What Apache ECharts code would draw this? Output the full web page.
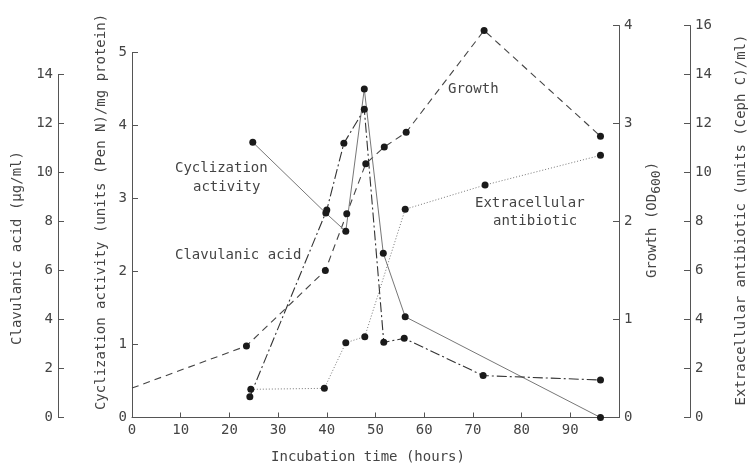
<!DOCTYPE html>
<html>
<head>
<meta charset="utf-8">
<script src="https://cdn.jsdelivr.net/npm/echarts@6/dist/echarts.min.js"></script>
<style>
html,body{margin:0;padding:0;background:#fff;}
#chart{width:750px;height:466px;}
</style>
</head>
<body>
<div id="chart"></div>
<script>
// ---- Data ----
const xTicks = [0, 10, 20, 30, 40, 50, 60, 70, 80, 90];

const growthHours = [0, 23.5, 39.7, 44.1, 48.0, 51.8, 56.3, 72.3, 96.2];
const growthOD    = [0.30, 0.73, 1.50, 2.08, 2.59, 2.76, 2.91, 3.95, 2.87];

const cycHours    = [24.8, 39.8, 43.9, 47.7, 51.6, 56.1, 96.2];
const cycActivity = [3.77, 2.80, 2.55, 4.50, 2.25, 1.38, 0.0];

const clavHours   = [24.2, 40.0, 43.5, 47.7, 51.7, 55.9, 72.1, 96.2];
const clavAcid    = [0.85, 8.47, 11.19, 12.58, 3.07, 3.23, 1.71, 1.53];

const extraHours  = [24.4, 39.5, 43.9, 47.8, 56.1, 72.5, 96.2];
const extraAntib  = [1.15, 1.19, 3.05, 3.30, 8.50, 9.49, 10.70];

const FONT = 'DejaVu Sans Mono';
const TXT = '#444';
const AX = '#555';

function pairs(xs, ys) { return xs.map((x, i) => [x, ys[i]]); }

const growthData = pairs(growthHours, growthOD).map((p, i) =>
  i === 0 ? { value: p, symbol: 'none' } : p);

const chart = echarts.init(document.getElementById('chart'), null, { renderer: 'canvas' });

const hiddenX = (g) => ({ type: 'value', gridIndex: g, min: 0, max: 100, show: false });

function yAx(opts) {
  return Object.assign({
    type: 'value',
    axisLine: { show: true, onZero: false, lineStyle: { color: AX, width: 1 } },
    axisTick: { show: true, inside: true, length: 6, lineStyle: { color: AX } },
    axisLabel: { color: TXT, fontFamily: FONT, fontSize: 14, margin: 5 },
    splitLine: { show: false }
  }, opts);
}

const symStyle = { color: '#1a1a1a' };

const option = {
  animation: false,
  backgroundColor: '#fff',
  grid: [
    { left: 132, right: 131, top: 25.5, bottom: 48.5 },
    { left: 132, right: 131, top: 52.5, bottom: 48.5 },
    { left: 132, right: 131, top: 74.5, bottom: 48.5 }
  ],
  xAxis: [
    {
      type: 'value', gridIndex: 0, min: 0, max: 100, interval: 10,
      axisLine: { show: true, onZero: false, lineStyle: { color: AX, width: 1 } },
      axisTick: { show: true, inside: true, length: 5, lineStyle: { color: AX } },
      axisLabel: {
        color: TXT, fontFamily: FONT, fontSize: 14, margin: 6,
        formatter: v => (xTicks.indexOf(v) >= 0 ? String(v) : '')
      },
      splitLine: { show: false }
    },
    hiddenX(1),
    hiddenX(2)
  ],
  yAxis: [
    yAx({ gridIndex: 0, position: 'right', min: 0, max: 4, interval: 1 }),
    yAx({ gridIndex: 0, position: 'right', offset: 71, min: 0, max: 16, interval: 2 }),
    yAx({ gridIndex: 1, position: 'left', min: 0, max: 5, interval: 1 }),
    yAx({ gridIndex: 2, position: 'left', offset: 74, min: 0, max: 14, interval: 2 })
  ],
  series: [
    {
      name: 'Growth', type: 'line', xAxisIndex: 0, yAxisIndex: 0,
      data: growthData, symbol: 'circle', symbolSize: 7, itemStyle: symStyle,
      lineStyle: { color: '#444', width: 1.1, type: [7, 5] }
    },
    {
      name: 'Extracellular antibiotic', type: 'line', xAxisIndex: 0, yAxisIndex: 1,
      data: pairs(extraHours, extraAntib), symbol: 'circle', symbolSize: 7, itemStyle: symStyle,
      lineStyle: { color: '#777', width: 1, type: [1, 2] }
    },
    {
      name: 'Cyclization activity', type: 'line', xAxisIndex: 1, yAxisIndex: 2,
      data: pairs(cycHours, cycActivity), symbol: 'circle', symbolSize: 7, itemStyle: symStyle,
      lineStyle: { color: '#777', width: 1, type: 'solid' }
    },
    {
      name: 'Clavulanic acid', type: 'line', xAxisIndex: 2, yAxisIndex: 3,
      data: pairs(clavHours, clavAcid), symbol: 'circle', symbolSize: 7, itemStyle: symStyle,
      lineStyle: { color: '#333', width: 1.1, type: [10, 3, 2, 3] }
    }
  ],
  graphic: [
    // axis titles
    { type: 'text', x: 17, y: 248, rotation: Math.PI / 2,
      style: { text: 'Clavulanic acid (µg/ml)', fill: TXT, font: '14px ' + FONT, textAlign: 'center', textVerticalAlign: 'middle' } },
    { type: 'text', x: 101, y: 212, rotation: Math.PI / 2,
      style: { text: 'Cyclization activity (units (Pen N)/mg protein)', fill: TXT, font: '14px ' + FONT, textAlign: 'center', textVerticalAlign: 'middle' } },
    { type: 'text', x: 652, y: 220, rotation: Math.PI / 2,
      style: { text: 'Growth (OD{sub|600})', fill: TXT, font: '14px ' + FONT, textAlign: 'center', textVerticalAlign: 'middle',
        rich: { sub: { fontFamily: FONT, fontSize: 13, fill: TXT, padding: [9, 0, 0, 0] } } } },
    { type: 'text', x: 741, y: 220, rotation: Math.PI / 2,
      style: { text: 'Extracellular antibiotic (units (Ceph C)/ml)', fill: TXT, font: '14px ' + FONT, textAlign: 'center', textVerticalAlign: 'middle' } },
    { type: 'text', x: 368, y: 457,
      style: { text: 'Incubation time (hours)', fill: TXT, font: '14px ' + FONT, textAlign: 'center', textVerticalAlign: 'middle' } },
    // in-plot labels
    { type: 'text', x: 175, y: 168,
      style: { text: 'Cyclization', fill: TXT, font: '14px ' + FONT, textAlign: 'left', textVerticalAlign: 'middle' } },
    { type: 'text', x: 193, y: 187,
      style: { text: 'activity', fill: TXT, font: '14px ' + FONT, textAlign: 'left', textVerticalAlign: 'middle' } },
    { type: 'text', x: 175, y: 255,
      style: { text: 'Clavulanic acid', fill: TXT, font: '14px ' + FONT, textAlign: 'left', textVerticalAlign: 'middle' } },
    { type: 'text', x: 448, y: 89,
      style: { text: 'Growth', fill: TXT, font: '14px ' + FONT, textAlign: 'left', textVerticalAlign: 'middle' } },
    { type: 'text', x: 475, y: 203,
      style: { text: 'Extracellular', fill: TXT, font: '14px ' + FONT, textAlign: 'left', textVerticalAlign: 'middle' } },
    { type: 'text', x: 493, y: 221,
      style: { text: 'antibiotic', fill: TXT, font: '14px ' + FONT, textAlign: 'left', textVerticalAlign: 'middle' } }
  ]
};

chart.setOption(option);
</script>
</body>
</html>
